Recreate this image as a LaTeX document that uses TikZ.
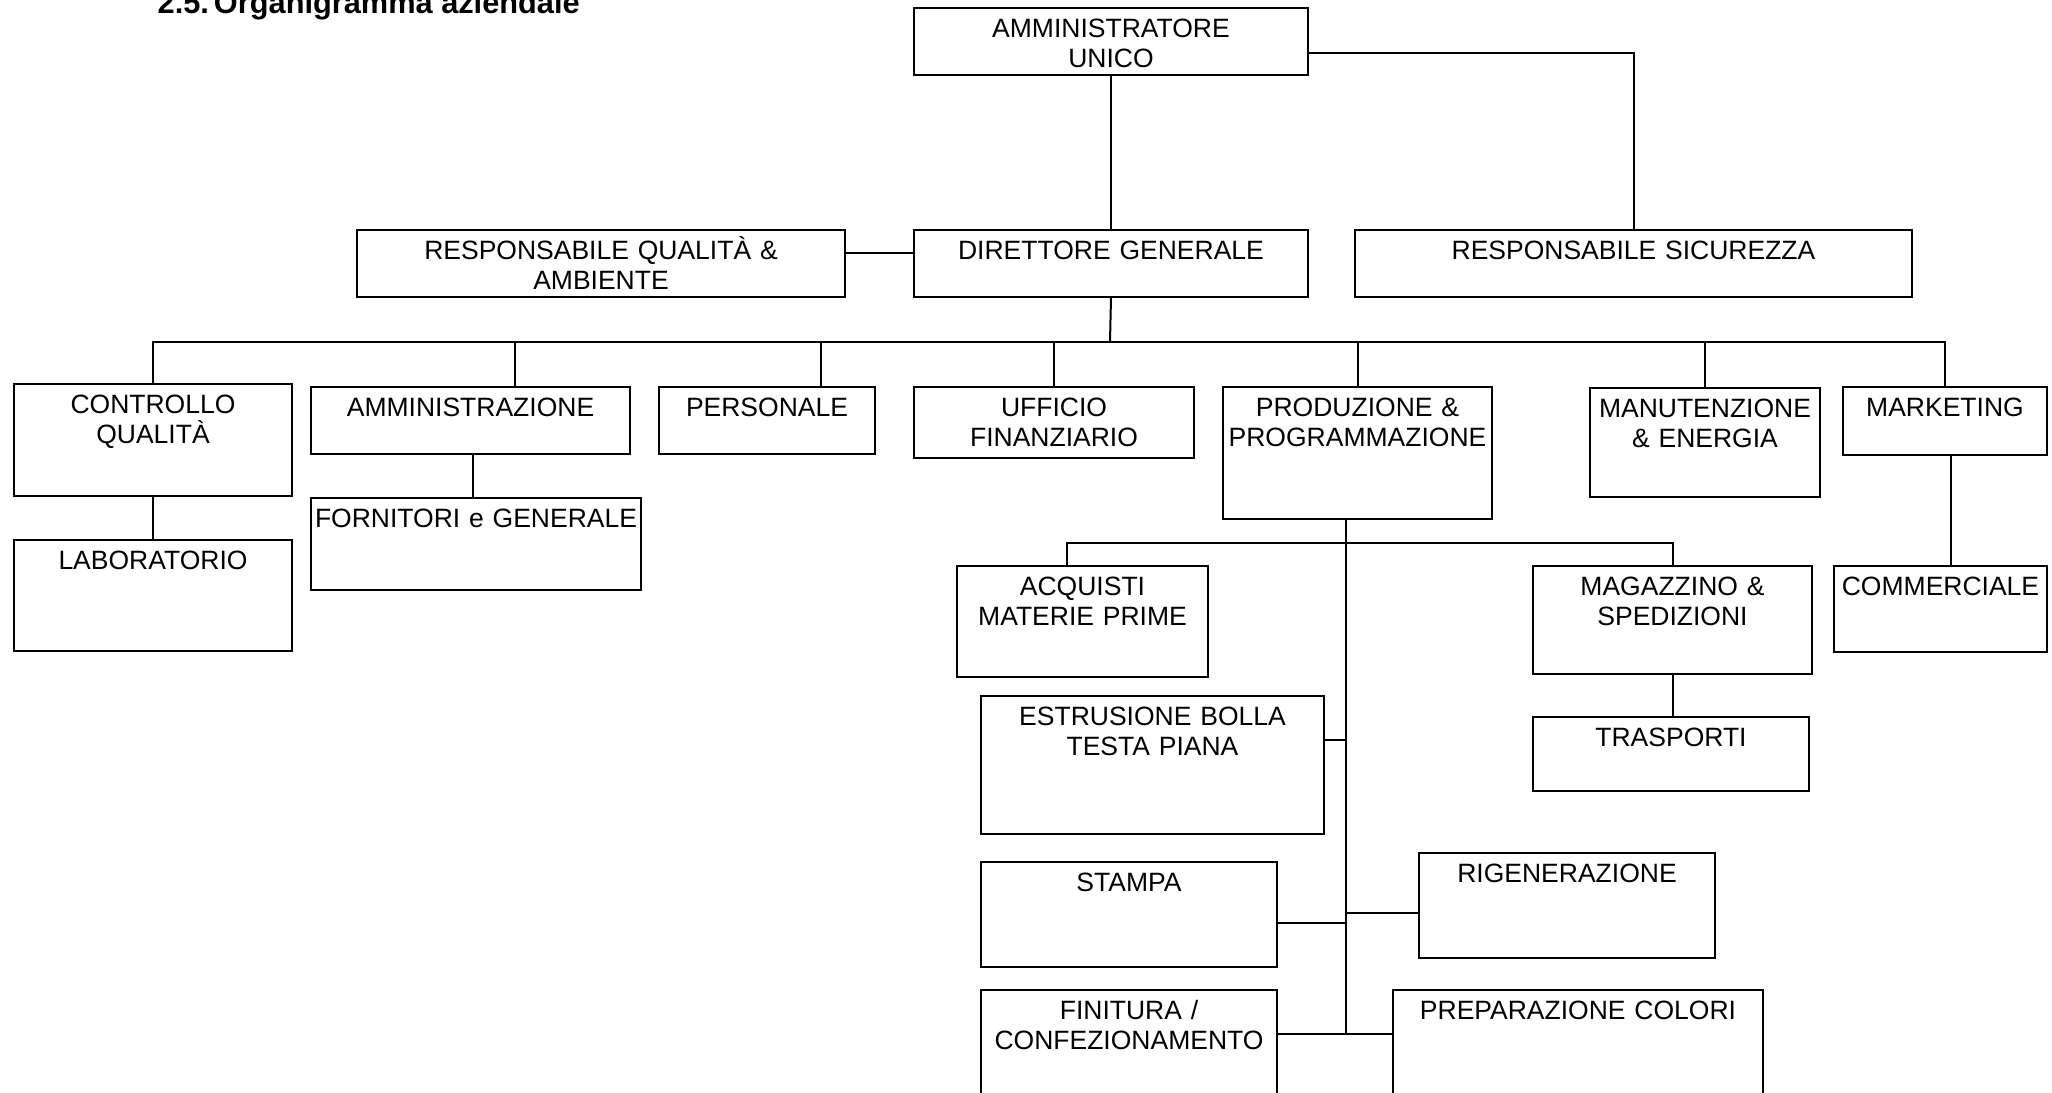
\documentclass[tikz,border=0pt]{standalone}
\usepackage{fontspec}
\setmainfont{Liberation Sans}
\usepackage{tikz}
\usetikzlibrary{positioning}

\begin{document}
\begin{tikzpicture}[x=0.1mm, y=-0.1mm,
        box/.style 2 args={draw, line width=0.2mm, anchor=north west, inner sep=0pt,
            text width=#1, align=center, text height=2.9mm, text depth={#2-2.9mm},
            font=\fontsize{7.54pt}{8.8pt}\selectfont},
        link/.style={line width=0.2mm}]
        \clip (0,0) rectangle (2052,1092);
        \node[anchor=base west, inner sep=0pt, font=\fontsize{8.75pt}{11pt}\selectfont\bfseries] (title) at (157,13) {2.5.\hspace{0.5mm}Organigramma aziendale};

        \node[box={39.4mm}{6.7mm}] (AU) at (913,7) {AMMINISTRATORE\\UNICO};
        \node[box={48.8mm}{6.7mm}] (RQ) at (356,229) {RESPONSABILE QUALITÀ \&\\AMBIENTE};
        \node[box={39.4mm}{6.7mm}] (DG) at (913,229) {DIRETTORE GENERALE};
        \node[box={55.7mm}{6.7mm}] (RS) at (1354,229) {RESPONSABILE SICUREZZA};

        \node[box={27.8mm}{11.2mm}] (CQ) at (13,383) {CONTROLLO\\QUALITÀ};
        \node[box={31.9mm}{6.7mm}] (AMM) at (310,386) {AMMINISTRAZIONE};
        \node[box={21.6mm}{6.7mm}] (PERS) at (658,386) {PERSONALE};
        \node[box={28.0mm}{7.1mm}] (UF) at (913,386) {UFFICIO\\FINANZIARIO};
        \node[box={26.9mm}{13.2mm}] (PP) at (1222,386) {PRODUZIONE \&\\PROGRAMMAZIONE};
        \node[box={23.0mm}{10.9mm}] (MAN) at (1589,387) {MANUTENZIONE\\\& ENERGIA};
        \node[box={20.4mm}{6.8mm}] (MKT) at (1842,386) {MARKETING};

        \node[box={27.8mm}{11.1mm}] (LAB) at (13,539) {LABORATORIO};
        \node[box={33.0mm}{9.2mm}] (FORN) at (310,497) {FORNITORI e GENERALE};
        \node[box={21.3mm}{8.6mm}] (COMM) at (1833,565) {COMMERCIALE};

        \node[box={25.1mm}{11.1mm}] (ACQ) at (956,565) {ACQUISTI\\MATERIE PRIME};
        \node[box={27.9mm}{10.8mm}] (MAG) at (1532,565) {MAGAZZINO \&\\SPEDIZIONI};
        \node[box={27.6mm}{7.4mm}] (TRAS) at (1532,716) {TRASPORTI};
        \node[box={34.3mm}{13.8mm}] (ESTR) at (980,695) {ESTRUSIONE BOLLA\\TESTA PIANA};
        \node[box={29.6mm}{10.5mm}] (STAMPA) at (980,861) {STAMPA};
        \node[box={29.6mm}{10.5mm}] (RIG) at (1418,852) {RIGENERAZIONE};
        \node[box={29.6mm}{15mm}] (FIN) at (980,989) {FINITURA /\\CONFEZIONAMENTO};
        \node[box={37.0mm}{15mm}] (PREP) at (1392,989) {PREPARAZIONE COLORI};

        \coordinate (bus) at (1110,342);
        \coordinate (sub) at (1346,543);

        \draw[link] (AU.south) -- (DG.north);
        \draw[link] ([yshift=-1.15mm]AU.east) -| (RS.north);
        \draw[link] ([yshift=1.05mm]RQ.east) -- ([yshift=1.05mm]DG.west);
        \draw[link] (DG.south) -- (bus);
        \draw[link] (CQ.north) |- (bus);
        \draw[link] ([xshift=4.45mm]AMM.north) |- (bus);
        \draw[link] ([xshift=5.4mm]PERS.north) |- (bus);
        \draw[link] (UF.north) |- (bus);
        \draw[link] (PP.north) |- (bus);
        \draw[link] (MAN.north) |- (bus);
        \draw[link] (MKT.north) |- (bus);

        \draw[link] (CQ.south) -- (LAB.north);
        \draw[link] ([xshift=0.25mm]AMM.south) -- ([xshift=0.25mm]AMM.south |- FORN.north);
        \draw[link] ([xshift=0.6mm]MKT.south) -- ([xshift=0.6mm]MKT.south |- COMM.north);

        \draw[link] (sub |- PP.south) -- (sub);
        \draw[link] ([xshift=-1.55mm]ACQ.north) |- (sub);
        \draw[link] (MAG.north) |- (sub);
        \draw[link] (MAG.south) -- (MAG.south |- TRAS.north);
        \draw[link] ([yshift=2.5mm]ESTR.east) -| (sub);
        \draw[link] ([yshift=-0.85mm]STAMPA.east) -| (sub);
        \draw[link] ([yshift=-0.75mm]RIG.west) -| (sub);
        \draw[link] ([yshift=3.1mm]FIN.east) -| (sub);
        \draw[link] ([yshift=3.1mm]PREP.west) -| (sub);
\end{tikzpicture}
\end{document}
